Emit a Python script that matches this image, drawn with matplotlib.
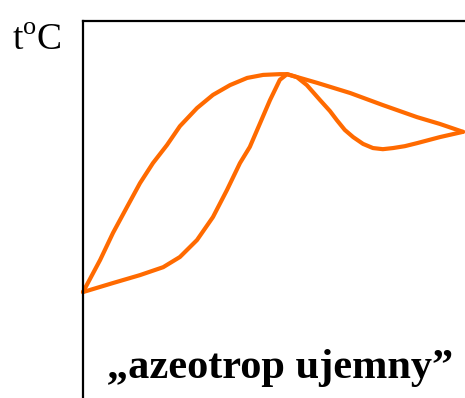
import matplotlib
matplotlib.use("Agg")
import matplotlib.pyplot as plt

plt.rcParams["font.family"] = ["Liberation Serif", "DejaVu Serif"]
plt.rcParams["mathtext.fontset"] = "custom"
plt.rcParams["mathtext.rm"] = "Liberation Serif"

ORANGE = "#ff6a00"

# vapour (upper) curve: composition in %, temperature (arbitrary units)
vap_x = [0, 4.5, 7.9, 11.6, 15.0, 18.4, 22.1, 25.5, 30.0, 34.2, 38.7, 43.2,
         47.4, 51.8, 53.7, 61.6, 70.3, 78.9, 87.9, 93.9, 100]
vap_t = [28.1, 36.6, 43.8, 50.7, 57.0, 62.3, 67.1, 72.1, 76.9, 80.4, 83.0,
         84.9, 85.7, 85.9, 85.9, 83.6, 80.9, 77.7, 74.5, 72.7, 70.6]

# liquid (lower) curve
liq_x = [0, 7.9, 15.0, 21.1, 25.5, 30.0, 34.2, 37.9, 41.3, 43.9, 46.6, 49.2,
         51.8, 53.7, 56.3, 58.9, 62.4, 65.0, 66.8, 68.9, 71.1, 73.7, 76.3,
         78.9, 81.6, 84.7, 87.9, 93.9, 100]
liq_t = [28.1, 30.5, 32.6, 34.7, 37.4, 41.9, 48.0, 55.2, 62.3, 66.6, 72.9,
         79.0, 84.4, 85.9, 85.1, 83.0, 79.0, 76.1, 73.7, 71.1, 69.2, 67.4,
         66.3, 66.0, 66.3, 66.8, 67.6, 69.2, 70.6]

W, H = 465, 398
fig = plt.figure(figsize=(W / 100, H / 100), dpi=100)

# axes box: left spine at px 83, top spine at px 21; runs off right/bottom
left, top = 83, 21
px_per_x = 3.8
px_per_t = 3.77
x_right_px = W + 30
y_bottom_px = H + 30
ax = fig.add_axes([left / W, 1 - y_bottom_px / H,
                   (x_right_px - left) / W, (y_bottom_px - top) / H])
ax.set_xlim(0, (x_right_px - left) / px_per_x)
ax.set_ylim((H - y_bottom_px) / px_per_t, (H - top) / px_per_t)

for xs, ts in [(vap_x, vap_t), (liq_x, liq_t)]:
    ax.plot(xs, ts, color=ORANGE, lw=3.0, solid_joinstyle="round",
            solid_capstyle="round", clip_on=False)

for s in ["right", "bottom"]:
    ax.spines[s].set_visible(False)
for s in ["left", "top"]:
    ax.spines[s].set_linewidth(1.6)
ax.set_xticks([])
ax.set_yticks([])

fig.text(12 / W, 1 - 50 / H, "t$^\\mathrm{o}$C", fontsize=27,
         ha="left", va="baseline")
fig.text(280 / W, 1 - 378 / H, "\u201eazeotrop ujemny\u201d", fontsize=30.5,
         fontweight="bold", ha="center", va="baseline")

fig.savefig("out.png", dpi=100)
